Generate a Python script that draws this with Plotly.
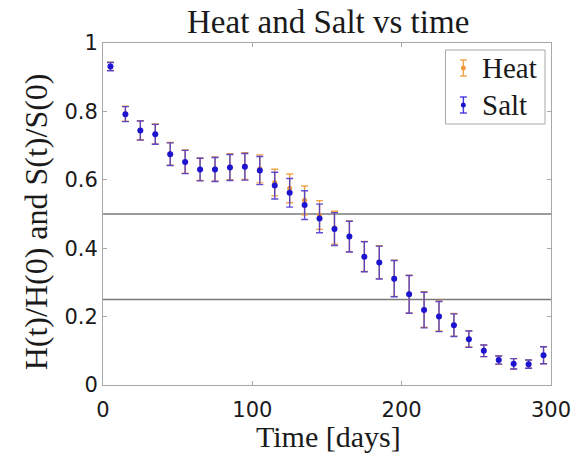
import plotly.graph_objects as go

# Sampling times (days)
time_days = [5, 15, 25, 35, 45, 55, 65, 75, 85, 95, 105, 115, 125, 135, 145,
             155, 165, 175, 185, 195, 205, 215, 225, 235, 245, 255, 265, 275, 285, 295]

# Normalised salt content S(t)/S(0) and its uncertainty
salt = [0.931, 0.792, 0.744, 0.733, 0.675, 0.652, 0.630, 0.630, 0.636, 0.638,
        0.627, 0.583, 0.562, 0.526, 0.487, 0.456, 0.434, 0.375, 0.358, 0.311,
        0.265, 0.219, 0.200, 0.175, 0.134, 0.100, 0.073, 0.062, 0.061, 0.087]
salt_err = [0.012, 0.022, 0.028, 0.029, 0.033, 0.034, 0.033, 0.035, 0.038, 0.039,
            0.041, 0.039, 0.042, 0.042, 0.042, 0.048, 0.045, 0.044, 0.048, 0.053,
            0.055, 0.052, 0.044, 0.033, 0.024, 0.017, 0.012, 0.015, 0.012, 0.025]

# Normalised heat content H(t)/H(0) and its uncertainty
heat = [0.932, 0.793, 0.745, 0.734, 0.676, 0.653, 0.631, 0.632, 0.638, 0.640,
        0.632, 0.592, 0.575, 0.540, 0.497, 0.460, 0.435, 0.376, 0.359, 0.312,
        0.266, 0.221, 0.202, 0.176, 0.135, 0.100, 0.073, 0.062, 0.061, 0.087]
heat_err = salt_err

# Reference levels
ref_levels = [0.5, 0.25]

serif = "Liberation Serif, Times New Roman, serif"
sans = "DejaVu Sans, sans-serif"
ink = "#1a1a1a"
frame = "#a8a8a8"
heat_col = "#f2a445"
heat_dot = "#ee9838"
salt_col = "#1c14d0"
salt_bar = "rgba(72,52,205,0.88)"

W, H = 583, 456
L, R, T, B = 103, 30, 43, 71
PW, PH = W - L - R, H - T - B


def px(x):
    """Pixel column -> paper x."""
    return (x - L) / PW


def py(y):
    """Pixel row -> paper y."""
    return (H - B - y) / PH


fig = go.Figure()

fig.add_trace(go.Scatter(
    x=time_days, y=heat, mode="markers", name="Heat", showlegend=False,
    marker=dict(color=heat_dot, size=5),
    error_y=dict(type="data", array=heat_err, color=heat_col,
                 thickness=1.4, width=3.5),
))
fig.add_trace(go.Scatter(
    x=time_days, y=salt, mode="markers", name="Salt", showlegend=False,
    marker=dict(color=salt_col, size=6),
    error_y=dict(type="data", array=salt_err, color=salt_bar,
                 thickness=1.4, width=3.5),
))

shapes = []
for lvl in ref_levels:
    shapes.append(dict(type="line", xref="x", yref="y", x0=0, x1=300, y0=lvl, y1=lvl,
                       line=dict(color="#7a7a7a", width=1.5), layer="below"))

# Legend box with error-bar glyphs
shapes.append(dict(type="rect", xref="paper", yref="paper",
                   x0=px(447), x1=px(547), y0=py(124), y1=py(50),
                   line=dict(color=frame, width=1), fillcolor="white", layer="above"))
annotations = []
for label, col, dot, row_y in [("Heat", heat_col, heat_dot, 68),
                               ("Salt", "rgba(50,35,225,0.9)", salt_col, 105)]:
    gx = 465
    half = 8
    shapes.append(dict(type="line", xref="paper", yref="paper",
                       x0=px(gx), x1=px(gx), y0=py(row_y - half), y1=py(row_y + half),
                       line=dict(color=col, width=1.4)))
    for cy in (row_y - half, row_y + half):
        shapes.append(dict(type="line", xref="paper", yref="paper",
                           x0=px(gx - 3.5), x1=px(gx + 3.5), y0=py(cy), y1=py(cy),
                           line=dict(color=col, width=1.4)))
    shapes.append(dict(type="circle", xref="paper", yref="paper",
                       x0=px(gx - 2.5), x1=px(gx + 2.5),
                       y0=py(row_y + 2.5), y1=py(row_y - 2.5),
                       line=dict(color=dot, width=0), fillcolor=dot))
    annotations.append(dict(text=label, xref="paper", yref="paper",
                            x=px(482), y=py(row_y), xanchor="left", yanchor="middle",
                            showarrow=False,
                            font=dict(family=serif, size=29, color=ink)))

# Title and axis labels
annotations += [
    dict(text="Heat and Salt vs time", xref="paper", yref="paper",
         x=px(329), y=py(22), xanchor="center", yanchor="middle", showarrow=False,
         font=dict(family=serif, size=33, color=ink)),
    dict(text="Time [days]", xref="paper", yref="paper",
         x=px(330), y=py(436), xanchor="center", yanchor="middle", showarrow=False,
         font=dict(family=serif, size=30, color=ink)),
    dict(text="H(t)/H(0) and S(t)/S(0)", xref="paper", yref="paper",
         x=px(36), y=py(222), xanchor="center", yanchor="middle", showarrow=False,
         textangle=-90, font=dict(family=serif, size=32, color=ink)),
]

axis_common = dict(
    showgrid=False, zeroline=False, showline=True, linecolor=frame,
    linewidth=1, mirror="ticks", ticks="inside", ticklen=4, tickcolor=frame,
    tickfont=dict(family=sans, size=21, color=ink),
)

fig.update_layout(
    width=W, height=H,
    margin=dict(l=L, r=R, t=T, b=B),
    paper_bgcolor="white", plot_bgcolor="white",
    xaxis=dict(range=[0, 300], tickvals=[0, 100, 200, 300],
               ticklabelstandoff=6, **axis_common),
    yaxis=dict(range=[0, 1], tickvals=[0, 0.2, 0.4, 0.6, 0.8, 1],
               ticktext=["0", "0.2", "0.4", "0.6", "0.8", "1"],
               **axis_common),
    shapes=shapes,
    annotations=annotations,
    showlegend=False,
)

fig.write_html("out.html")
